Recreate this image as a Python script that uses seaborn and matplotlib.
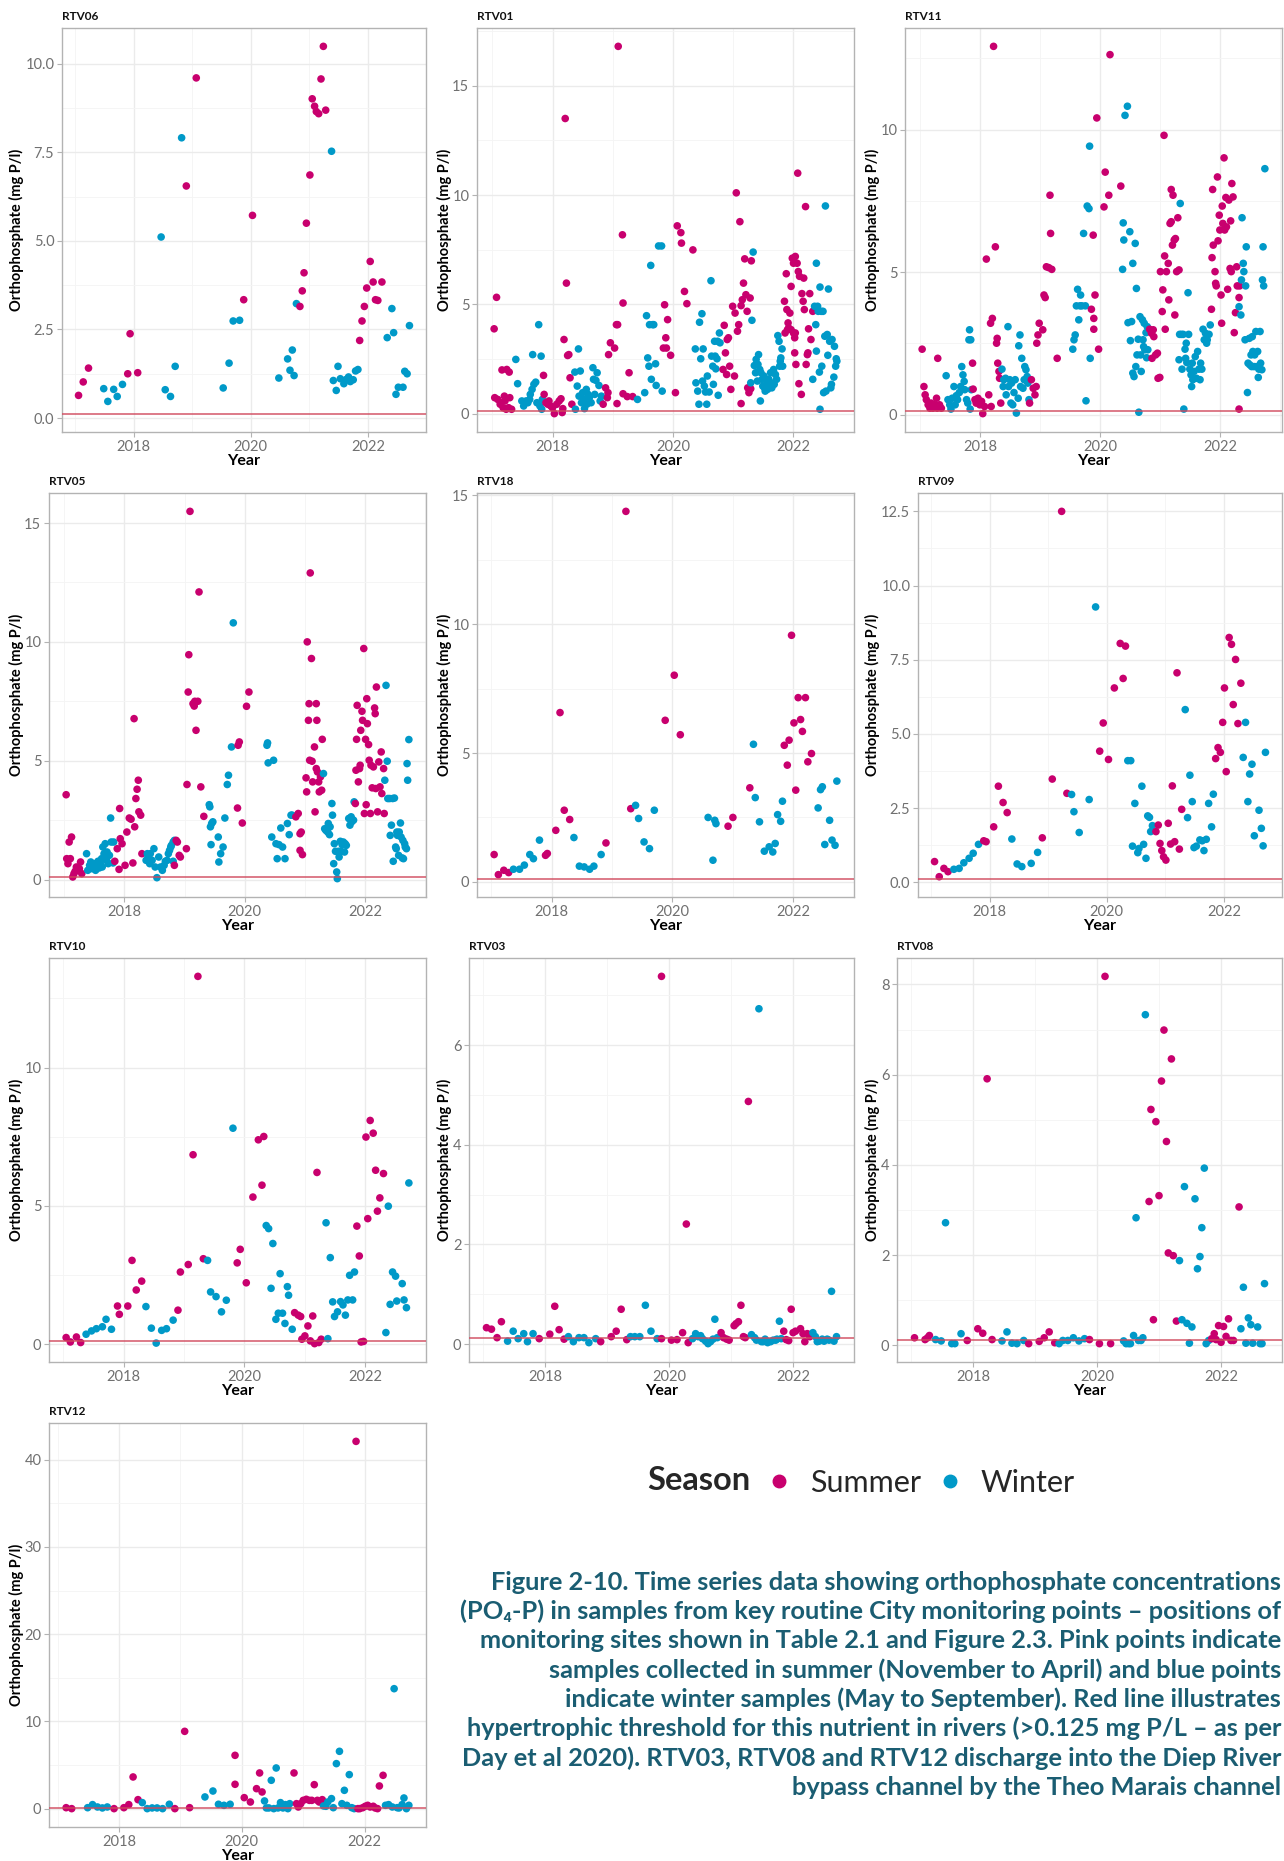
import matplotlib
matplotlib.use("Agg")
import matplotlib.pyplot as plt
import seaborn as sns
import pandas as pd
from matplotlib.lines import Line2D
from matplotlib.ticker import MultipleLocator, FixedLocator, FuncFormatter

# ---------------- data: (decimal year, orthophosphate mg P/l) ----------------
RTV06_summer = [(2017.06,0.64),(2017.14,1.02),(2017.23,1.41),(2017.90,1.25),(2017.94,2.38),(2018.07,1.28),(2018.90,6.55),(2019.07,9.60),(2019.88,3.34),(2020.03,5.72),(2020.84,3.15),(2020.88,3.59),(2020.91,4.10),(2020.95,5.50),(2021.01,6.86),(2021.05,9.01),(2021.09,8.80),(2021.12,8.65),(2021.16,8.59),(2021.20,9.57),(2021.24,10.49),(2021.28,8.69),(2021.86,2.19),(2021.90,2.74),(2021.94,3.15),(2021.98,3.67),(2022.04,4.42),(2022.09,3.84),(2022.13,3.34),(2022.17,3.32),(2022.24,3.84)]
RTV06_winter = [(2017.49,0.83),(2017.56,0.47),(2017.66,0.81),(2017.72,0.61),(2017.81,0.95),(2018.47,5.11),(2018.54,0.80),(2018.63,0.61),(2018.71,1.46),(2018.82,7.91),(2019.53,0.85),(2019.63,1.55),(2019.70,2.74),(2019.81,2.76),(2020.48,1.13),(2020.63,1.67),(2020.67,1.35),(2020.71,1.92),(2020.74,1.20),(2020.78,3.23),(2021.38,7.53),(2021.41,1.06),(2021.46,0.78),(2021.49,1.46),(2021.53,1.11),(2021.59,0.97),(2021.63,1.09),(2021.67,1.16),(2021.70,1.03),(2021.75,1.08),(2021.79,1.33),(2021.83,1.37),(2022.33,2.27),(2022.41,3.09),(2022.44,2.41),(2022.48,0.67),(2022.52,0.87),(2022.60,0.87),(2022.63,1.32),(2022.67,1.25),(2022.71,2.61)]

RTV01_summer = [(2017.03,3.88),(2017.07,5.32),(2017.04,0.73),(2017.09,0.65),(2017.13,0.43),(2017.16,2.0),(2017.18,0.27),(2017.21,0.58),(2017.24,2.02),(2017.27,0.27),(2017.28,1.9),(2017.29,0.73),(2017.32,0.2),(2017.23,0.2),(2017.20,0.8),(2017.14,0.5),
 (2017.85,1.75),(2017.86,0.88),(2017.89,0.5),(2017.92,0.43),(2017.94,0.58),(2017.97,0.35),(2018.0,0.27),(2018.03,0.0),(2018.07,0.43),(2018.11,0.58),(2018.14,0.68),(2018.17,0.23),(2018.16,0.05),
 (2018.19,3.39),(2018.21,13.5),(2018.23,5.97),(2018.25,2.66),(2018.27,2.7),(2018.29,1.64),(2018.32,0.43),
 (2018.84,0.43),(2018.88,1.18),(2018.91,0.73),(2018.92,0.96),(2018.93,2.7),(2018.96,3.24),(2019.03,3.0),(2019.06,4.07),(2019.08,4.07),(2019.07,0.46),(2019.09,16.8),(2019.16,8.18),(2019.17,5.06),(2019.17,0.91),(2019.24,0.78),(2019.27,1.87),(2019.33,0.78),
 (2019.86,4.98),(2019.91,4.3),(2019.88,3.47),(2019.84,3.0),(2019.89,3.0),(2019.96,2.67),(2020.04,0.96),(2020.07,8.59),(2020.13,8.28),(2020.14,7.8),(2020.19,5.59),(2020.23,5.03),(2020.33,7.49),
 (2020.85,4.04),(2020.87,2.78),(2020.83,2.02),(2020.90,3.39),(2020.92,3.47),(2020.89,1.79),(2020.94,2.17),(2020.96,1.11),(2020.99,4.91),(2021.02,1.72),(2021.03,4.6),(2021.05,10.1),(2021.07,3.77),(2021.09,4.07),(2021.11,8.78),(2021.13,4.94),(2021.13,0.46),(2021.15,5.21),(2021.17,5.97),(2021.19,7.08),(2021.21,5.44),(2021.23,4.68),(2021.24,1.18),(2021.26,0.96),(2021.28,5.29),(2021.29,1.14),(2021.30,6.99),
 (2021.85,5.14),(2021.88,6.4),(2021.89,4.76),(2021.91,4.15),(2021.94,4.6),(2021.96,5.82),(2021.86,3.69),(2021.90,3.84),(2021.92,3.92),(2021.96,3.84),(2021.98,7.11),(2022.0,6.88),(2022.02,3.47),(2022.0,3.69),(2022.03,3.69),(2022.02,2.78),(2022.03,7.19),(2022.06,6.88),(2022.04,2.25),(2022.07,11.0),(2022.08,6.5),(2022.10,6.28),(2022.09,1.37),(2022.13,0.88),(2022.14,5.49),(2022.16,5.14),(2022.17,6.2),(2022.18,4.76),(2022.20,9.47),(2022.21,2.25),(2022.23,2.7),(2022.24,2.78),(2022.25,3.88),(2022.27,5.49),(2022.29,3.39),(2022.32,4.68)]
RTV01_winter = [(2017.39,2.48),(2017.42,1.37),(2017.49,0.58),(2017.52,0.35),(2017.56,0.58),(2017.59,0.5),(2017.62,0.65),(2017.63,0.88),(2017.66,1.11),(2017.67,2.7),(2017.69,1.34),(2017.72,1.44),(2017.74,0.5),(2017.77,4.07),(2017.79,0.35),(2017.81,2.63),(2017.82,0.2),(2017.83,0.65),
 (2018.37,1.9),(2018.38,0.2),(2018.41,1.26),(2018.43,2.96),(2018.44,0.8),(2018.46,1.95),(2018.48,0.5),(2018.50,0.96),(2018.52,0.65),(2018.53,0.23),(2018.56,1.11),(2018.57,0.43),(2018.59,0.88),(2018.61,0.73),(2018.64,0.5),(2018.67,2.1),(2018.68,1.57),(2018.70,0.88),(2018.72,1.52),(2018.74,1.87),(2018.77,1.29),(2018.79,0.58),(2018.81,0.8),
 (2019.41,0.65),(2019.53,0.96),(2019.56,4.48),(2019.58,2.55),(2019.60,2.17),(2019.61,4.07),(2019.63,6.78),(2019.64,1.57),(2019.66,4.07),(2019.68,4.07),(2019.71,2.28),(2019.72,1.29),(2019.76,7.67),(2019.81,7.67),(2019.82,1.03),
 (2020.37,2.96),(2020.38,1.41),(2020.41,1.03),(2020.43,0.43),(2020.44,4.18),(2020.46,2.51),(2020.48,4.57),(2020.49,1.49),(2020.50,2.96),(2020.52,1.26),(2020.54,0.99),(2020.56,0.43),(2020.57,1.72),(2020.60,0.99),(2020.63,6.08),(2020.64,2.63),(2020.66,2.17),(2020.67,1.34),(2020.69,3.31),(2020.70,2.63),(2020.71,2.05),(2020.73,2.51),(2020.74,3.31),(2020.75,0.84),(2020.77,3.69),(2020.78,3.24),
 (2021.29,1.41),(2021.31,4.27),(2021.33,7.39),(2021.35,2.2),(2021.37,1.87),(2021.38,2.48),(2021.40,1.49),(2021.41,2.25),(2021.42,2.7),(2021.44,2.02),(2021.45,0.58),(2021.46,1.87),(2021.48,1.57),(2021.49,1.26),(2021.51,1.72),(2021.52,1.18),(2021.53,1.03),(2021.56,1.41),(2021.57,1.11),(2021.59,1.57),(2021.60,1.26),(2021.62,1.87),(2021.63,1.41),(2021.64,1.18),(2021.67,2.02),(2021.68,1.34),(2021.70,1.79),(2021.72,1.57),(2021.74,3.57),(2021.76,3.31),(2021.77,2.17),(2021.78,2.4),(2021.79,2.55),(2021.81,2.96),(2021.82,2.17),
 (2022.32,1.57),(2022.35,4.91),(2022.37,4.07),(2022.38,2.86),(2022.38,6.88),(2022.40,4.91),(2022.41,4.68),(2022.43,1.9),(2022.44,5.79),(2022.44,0.2),(2022.46,4.68),(2022.47,2.17),(2022.49,4.68),(2022.50,0.96),(2022.52,3.54),(2022.53,9.5),(2022.54,1.03),(2022.56,3.62),(2022.57,2.67),(2022.58,5.7),(2022.60,3.31),(2022.62,1.18),(2022.63,1.34),(2022.64,3.39),(2022.67,1.67),(2022.68,3.08),(2022.70,2.17),(2022.71,2.51),(2022.72,2.4)]

RTV11_summer = [(2017.03,2.30),(2017.06,0.99),(2017.08,0.70),(2017.10,0.53),(2017.13,0.35),(2017.16,0.23),(2017.18,0.41),(2017.21,0.23),(2017.24,0.35),(2017.27,0.58),(2017.28,0.23),(2017.29,1.98),(2017.32,0.35),(2017.35,0.23),
 (2017.87,1.81),(2017.88,0.9),(2017.91,0.53),(2017.93,0.41),(2017.96,0.58),(2017.99,0.35),(2018.02,0.47),(2018.04,0.04),(2018.07,0.29),(2018.10,5.46),(2018.14,0.7),(2018.17,3.21),(2018.18,0.29),(2018.20,3.38),(2018.22,12.92),(2018.25,5.89),(2018.27,2.51),(2018.28,2.68),(2018.29,1.81),(2018.31,1.52),(2018.32,1.28),(2018.34,0.41),
 (2018.82,0.41),(2018.85,1.23),(2018.88,0.93),(2018.91,0.70),(2018.93,0.99),(2018.94,2.51),(2018.96,2.8),(2018.98,3.21),(2019.04,2.98),(2019.06,4.2),(2019.08,4.11),(2019.10,5.19),(2019.14,5.16),(2019.16,7.7),(2019.17,6.36),(2019.19,5.1),(2019.28,1.98),
 (2019.85,3.7),(2019.88,6.3),(2019.89,3.38),(2019.91,4.2),(2019.89,3.0),(2019.94,10.41),(2019.97,2.3),(2020.06,7.29),(2020.08,8.51),(2020.14,7.7),(2020.16,12.63),(2020.34,8.02),
 (2020.82,3.0),(2020.85,2.86),(2020.86,1.98),(2020.88,2.98),(2020.89,2.74),(2020.92,2.1),(2020.95,2.16),(2020.96,1.28),(2020.99,1.31),(2021.00,5.02),(2021.03,3.62),(2021.04,4.38),(2021.07,5.57),(2021.08,3.0),(2021.06,9.8),(2021.10,5.02),(2021.13,5.31),(2021.14,4.03),(2021.16,6.71),(2021.18,7.9),(2021.18,6.77),(2021.20,5.95),(2021.21,7.7),(2021.23,6.13),(2021.24,3.5),(2021.25,6.18),(2021.27,5.02),(2021.29,6.91),(2021.31,5.08),
 (2021.85,3.7),(2021.86,5.51),(2021.87,7.9),(2021.88,5.95),(2021.91,5.02),(2021.92,4.61),(2021.93,4.52),(2021.95,8.34),(2021.96,6.1),(2021.98,7.0),(2021.99,6.48),(2022.01,4.2),(2022.02,3.21),(2022.03,7.32),(2022.04,6.71),(2022.06,9.01),(2022.07,6.48),(2022.09,7.62),(2022.10,6.59),(2022.12,4.4),(2022.14,7.53),(2022.16,5.13),(2022.17,6.8),(2022.19,8.11),(2022.18,5.02),(2022.21,7.64),(2022.23,2.88),(2022.25,3.58),(2022.27,5.19),(2022.28,4.52),(2022.31,4.11),(2022.31,0.2),(2022.32,4.52)]
RTV11_winter = [(2017.43,1.37),(2017.46,0.53),(2017.49,0.35),(2017.51,0.2),(2017.53,0.58),(2017.56,0.99),(2017.58,0.35),(2017.60,0.67),(2017.62,0.53),(2017.65,0.78),(2017.67,0.99),(2017.69,1.69),(2017.71,1.4),(2017.73,1.17),(2017.74,0.88),(2017.77,0.53),(2017.79,0.41),(2017.81,2.63),(2017.83,0.2),(2017.82,2.98),(2017.84,2.63),(2017.85,0.88),
 (2018.36,1.6),(2018.38,0.99),(2018.39,1.23),(2018.42,1.28),(2018.43,0.7),(2018.46,3.09),(2018.47,0.99),(2018.49,1.23),(2018.51,0.41),(2018.52,1.11),(2018.54,0.35),(2018.56,0.78),(2018.58,1.23),(2018.60,0.06),(2018.63,0.58),(2018.64,2.42),(2018.66,2.8),(2018.67,0.99),(2018.69,1.98),(2018.71,0.93),(2018.73,1.23),(2018.74,1.69),(2018.76,1.58),(2018.78,1.34),(2018.79,1.11),(2018.81,0.53),
 (2019.54,2.3),(2019.56,2.63),(2019.58,2.8),(2019.60,3.82),(2019.62,4.4),(2019.64,3.33),(2019.66,3.82),(2019.67,4.2),(2019.69,3.82),(2019.72,6.36),(2019.75,3.82),(2019.76,0.49),(2019.78,7.32),(2019.81,7.23),(2019.82,9.42),(2019.83,1.98),
 (2020.37,5.1),(2020.38,6.73),(2020.39,6.13),(2020.41,10.5),(2020.45,10.82),(2020.46,3.23),(2020.49,6.42),(2020.50,2.6),(2020.52,3.27),(2020.54,1.46),(2020.54,5.31),(2020.56,1.34),(2020.58,6.01),(2020.59,1.69),(2020.60,4.43),(2020.61,2.1),(2020.63,2.65),(2020.64,0.09),(2020.66,3.44),(2020.67,2.1),(2020.68,1.52),(2020.70,3.33),(2020.71,2.63),(2020.72,2.39),(2020.73,3.21),(2020.74,2.28),(2020.76,2.88),(2020.77,2.0),(2020.78,3.09),(2020.79,2.28),(2020.81,2.98),
 (2021.31,1.93),(2021.32,2.82),(2021.33,7.41),(2021.35,2.82),(2021.36,1.6),(2021.38,2.82),(2021.39,0.2),(2021.41,2.3),(2021.42,1.98),(2021.43,2.51),(2021.44,1.83),(2021.46,4.28),(2021.47,2.82),(2021.49,1.6),(2021.51,1.4),(2021.52,0.99),(2021.53,1.81),(2021.54,1.23),(2021.56,1.52),(2021.58,2.04),(2021.60,1.28),(2021.62,2.22),(2021.64,1.6),(2021.66,1.23),(2021.67,1.81),(2021.69,1.6),(2021.71,3.0),(2021.73,2.63),(2021.75,2.86),(2021.77,2.51),(2021.78,2.63),(2021.81,2.82),(2021.83,3.15),
 (2022.31,3.79),(2022.34,3.5),(2022.35,4.73),(2022.36,6.91),(2022.38,5.31),(2022.39,5.02),(2022.41,2.63),(2022.42,4.52),(2022.43,5.89),(2022.45,0.78),(2022.46,1.81),(2022.48,2.68),(2022.49,1.75),(2022.51,2.1),(2022.52,1.69),(2022.53,2.74),(2022.54,2.22),(2022.56,1.69),(2022.57,2.1),(2022.59,2.92),(2022.60,1.69),(2022.62,2.22),(2022.63,1.31),(2022.64,1.6),(2022.66,2.92),(2022.67,1.81),(2022.69,1.58),(2022.70,4.73),(2022.71,5.89),(2022.72,4.52),(2022.74,8.63)]

RTV05_summer = [(2017.03,3.57),(2017.04,0.88),(2017.06,0.67),(2017.08,1.58),(2017.10,0.88),(2017.12,1.79),(2017.14,0.11),(2017.16,0.25),(2017.18,0.35),(2017.20,0.53),(2017.22,0.39),(2017.25,0.46),(2017.27,0.74),(2017.29,0.25),
 (2017.84,0.77),(2017.88,1.3),(2017.91,0.43),(2017.92,2.99),(2017.93,1.72),(2017.96,1.51),(2018.01,0.6),(2018.04,2.0),(2018.08,2.59),(2018.11,2.54),(2018.14,0.7),(2018.16,6.77),(2018.17,2.22),(2018.19,3.41),(2018.21,3.8),(2018.23,4.18),(2018.24,2.85),(2018.27,2.71),(2018.29,1.09),
 (2018.83,0.6),(2018.86,1.65),(2018.88,1.58),(2018.91,1.02),(2018.93,0.95),(2019.03,1.3),(2019.04,4.0),(2019.06,7.89),(2019.07,9.46),(2019.09,15.49),(2019.14,7.4),(2019.16,7.3),(2019.17,7.5),(2019.19,6.28),(2019.22,7.5),(2019.24,12.1),(2019.27,3.9),(2019.32,2.66),
 (2019.88,3.01),(2019.89,5.65),(2019.91,5.79),(2019.96,2.38),(2020.03,7.29),(2020.07,7.89),
 (2020.85,2.64),(2020.89,2.78),(2020.92,1.93),(2020.94,2.0),(2020.92,1.23),(2020.96,1.05),(2021.02,4.28),(2021.03,3.69),(2021.04,10.0),(2021.06,6.7),(2021.07,7.4),(2021.08,5.02),(2021.09,12.9),(2021.11,9.3),(2021.12,4.98),(2021.13,4.11),(2021.16,5.58),(2021.17,2.85),(2021.19,7.4),(2021.19,4.67),(2021.20,6.7),(2021.21,4.53),(2021.23,4.11),(2021.24,3.69),(2021.26,4.32),(2021.28,3.76),(2021.29,5.9),
 (2021.84,3.2),(2021.85,4.6),(2021.86,5.9),(2021.87,7.33),(2021.89,4.11),(2021.91,4.67),(2021.92,4.81),(2021.93,6.28),(2021.95,7.08),(2021.96,6.7),(2021.98,9.72),(2021.99,2.78),(2022.01,5.9),(2022.02,3.15),(2022.03,7.61),(2022.04,6.56),(2022.06,5.68),(2022.07,5.02),(2022.09,2.78),(2022.10,4.81),(2022.12,3.86),(2022.14,4.74),(2022.16,7.22),(2022.17,6.98),(2022.18,3.83),(2022.19,8.1),(2022.21,2.85),(2022.23,4.95),(2022.25,3.9),(2022.27,5.37),(2022.28,3.62),(2022.31,4.67),(2022.32,2.78)]
RTV05_winter = [(2017.37,1.09),(2017.39,0.39),(2017.42,0.6),(2017.44,0.74),(2017.46,0.46),(2017.49,0.53),(2017.51,0.67),(2017.52,0.39),(2017.54,0.6),(2017.56,0.77),(2017.58,0.49),(2017.60,0.67),(2017.62,0.88),(2017.63,0.53),(2017.64,1.37),(2017.66,1.09),(2017.67,0.95),(2017.68,1.51),(2017.70,0.81),(2017.71,1.16),(2017.73,0.67),(2017.75,1.02),(2017.77,2.59),(2017.78,1.58),(2017.81,0.7),(2017.82,1.58),
 (2018.36,0.81),(2018.38,1.09),(2018.39,1.02),(2018.42,0.67),(2018.43,1.09),(2018.46,0.81),(2018.49,1.3),(2018.51,0.53),(2018.54,0.08),(2018.57,0.95),(2018.60,0.53),(2018.63,0.39),(2018.66,0.6),(2018.68,0.77),(2018.71,0.81),(2018.73,1.09),(2018.75,1.23),(2018.77,1.37),(2018.78,1.44),(2018.81,1.58),(2018.83,1.65),(2018.81,0.77),
 (2019.41,3.15),(2019.42,3.06),(2019.43,2.22),(2019.45,2.36),(2019.47,2.43),(2019.44,1.47),(2019.56,1.79),(2019.57,0.74),(2019.60,1.09),(2019.64,1.37),(2019.67,2.59),(2019.71,4.0),(2019.73,4.39),(2019.78,5.58),(2019.81,10.8),
 (2020.37,5.65),(2020.38,5.75),(2020.39,4.91),(2020.45,1.79),(2020.48,5.02),(2020.52,1.51),(2020.54,0.88),(2020.57,1.47),(2020.60,2.17),(2020.63,1.37),(2020.67,0.88),(2020.71,2.36),(2020.74,1.89),(2020.77,2.71),(2020.79,2.71),
 (2021.31,4.46),(2021.33,2.14),(2021.35,2.07),(2021.38,2.0),(2021.39,2.36),(2021.41,1.89),(2021.42,2.22),(2021.45,3.2),(2021.46,2.71),(2021.48,0.67),(2021.49,1.51),(2021.51,1.19),(2021.53,0.32),(2021.54,0.04),(2021.56,1.19),(2021.57,0.95),(2021.59,1.61),(2021.60,1.19),(2021.62,1.47),(2021.64,1.58),(2021.66,1.16),(2021.67,1.51),(2021.69,1.44),(2021.73,2.57),(2021.75,2.29),(2021.77,2.64),(2021.78,2.43),(2021.81,2.5),(2021.82,3.27),
 (2022.33,4.18),(2022.35,8.17),(2022.37,4.98),(2022.38,3.41),(2022.41,3.41),(2022.42,1.86),(2022.44,2.29),(2022.46,3.41),(2022.47,0.77),(2022.49,3.43),(2022.51,1.37),(2022.52,1.3),(2022.53,2.0),(2022.54,1.86),(2022.56,1.02),(2022.57,2.0),(2022.59,2.38),(2022.60,1.79),(2022.62,0.91),(2022.63,1.65),(2022.64,0.88),(2022.66,1.51),(2022.67,1.37),(2022.69,1.3),(2022.70,4.88),(2022.71,4.18),(2022.73,5.89)]

RTV18_summer = [(2017.05,1.06),(2017.12,0.28),(2017.21,0.45),(2017.29,0.36),(2017.90,1.03),(2017.93,1.1),(2018.07,2.0),(2018.14,6.57),(2018.21,2.78),(2018.30,2.42),(2018.90,1.51),(2019.23,14.38),(2019.31,2.84),(2019.88,6.27),(2020.03,8.02),(2020.13,5.71),(2020.92,2.16),(2021.00,2.5),(2021.28,3.65),(2021.85,5.3),(2021.90,4.53),(2021.93,5.5),(2021.97,9.57),(2022.01,6.17),(2022.04,3.56),(2022.08,7.15),(2022.12,6.3),(2022.15,5.84),(2022.20,7.15),(2022.24,4.66),(2022.30,4.98)]
RTV18_winter = [(2017.37,0.49),(2017.47,0.49),(2017.55,0.65),(2017.64,1.06),(2017.70,0.9),(2017.80,1.62),(2018.37,1.72),(2018.46,0.61),(2018.54,0.58),(2018.63,0.49),(2018.70,0.61),(2018.82,1.06),(2019.39,2.97),(2019.44,2.46),(2019.53,1.55),(2019.62,1.29),(2019.70,2.78),(2020.59,2.5),(2020.67,0.84),(2020.70,2.39),(2020.72,2.26),(2021.34,5.34),(2021.37,3.27),(2021.44,2.33),(2021.52,1.19),(2021.60,1.36),(2021.66,1.16),(2021.70,1.49),(2021.74,2.61),(2021.79,2.35),(2021.82,3.13),(2022.41,2.87),(2022.45,3.58),(2022.48,3.69),(2022.52,1.45),(2022.60,2.39),(2022.64,1.62),(2022.69,1.42),(2022.72,3.91)]

RTV09_summer = [(2017.06,0.70),(2017.14,0.19),(2017.22,0.47),(2017.29,0.36),(2017.90,1.40),(2017.94,1.37),(2018.07,1.87),(2018.15,3.24),(2018.23,2.69),(2018.30,2.35),(2018.90,1.50),(2019.07,3.48),(2019.23,12.5),(2019.32,3.0),(2019.88,4.42),(2019.94,5.37),(2020.03,4.14),(2020.13,6.55),(2020.23,8.05),(2020.28,6.87),(2020.32,7.96),(2020.84,1.71),(2020.88,1.93),(2020.91,1.31),(2020.94,1.07),(2020.97,0.86),(2021.01,0.75),(2021.05,1.99),(2021.09,1.29),(2021.12,3.25),(2021.16,1.37),(2021.20,7.06),(2021.24,1.12),(2021.28,2.46),(2021.86,4.17),(2021.90,4.54),(2021.94,4.38),(2021.98,5.39),(2022.01,6.55),(2022.04,3.73),(2022.09,8.25),(2022.13,8.02),(2022.16,5.99),(2022.20,7.51),(2022.24,5.35),(2022.29,6.71)]
RTV09_winter = [(2017.39,0.44),(2017.48,0.47),(2017.56,0.66),(2017.65,0.81),(2017.72,0.98),(2017.81,1.28),(2018.38,1.46),(2018.47,0.62),(2018.55,0.53),(2018.71,0.64),(2018.82,1.01),(2019.40,2.96),(2019.44,2.38),(2019.53,1.68),(2019.70,2.79),(2019.81,9.28),(2020.36,4.10),(2020.41,4.10),(2020.44,1.22),(2020.48,2.66),(2020.53,1.0),(2020.55,1.14),(2020.60,3.24),(2020.63,1.28),(2020.67,0.81),(2020.70,2.24),(2020.73,2.19),(2020.75,1.71),(2020.78,1.91),(2021.34,5.82),(2021.38,2.18),(2021.42,3.61),(2021.46,2.72),(2021.49,1.17),(2021.53,1.22),(2021.59,1.43),(2021.63,1.40),(2021.66,1.07),(2021.70,1.45),(2021.74,2.66),(2021.79,1.87),(2021.82,2.97),(2022.33,4.21),(2022.37,5.39),(2022.41,2.72),(2022.44,3.65),(2022.48,3.98),(2022.52,1.57),(2022.60,2.43),(2022.64,1.82),(2022.67,1.23),(2022.71,4.38)]

RTV10_summer = [(2017.05,0.24),(2017.12,0.08),(2017.22,0.26),(2017.29,0.06),(2017.90,1.38),(2017.93,1.08),(2018.07,1.38),(2018.14,3.03),(2018.21,1.96),(2018.30,2.28),(2018.90,1.23),(2018.94,2.61),(2019.07,2.88),(2019.15,6.85),(2019.23,13.3),(2019.32,3.09),(2019.88,2.94),(2019.93,3.43),(2020.03,2.22),(2020.14,5.32),(2020.23,7.39),(2020.29,5.75),(2020.32,7.51),(2020.83,1.14),(2020.89,1.05),(2020.93,1.0),(2020.95,0.18),(2021.0,0.3),(2021.05,0.66),(2021.09,0.12),(2021.13,1.02),(2021.16,0.02),(2021.20,6.21),(2021.23,0.06),(2021.27,0.18),(2021.86,4.27),(2021.90,3.19),(2021.93,0.08),(2021.97,0.1),(2022.01,7.49),(2022.04,4.54),(2022.08,8.09),(2022.13,7.63),(2022.17,6.29),(2022.20,4.81),(2022.24,5.29),(2022.30,6.17)]
RTV10_winter = [(2017.38,0.36),(2017.47,0.48),(2017.55,0.56),(2017.65,0.63),(2017.71,0.9),(2017.80,0.54),(2018.37,1.36),(2018.46,0.58),(2018.54,0.04),(2018.63,0.5),(2018.71,0.56),(2018.82,0.87),(2019.39,3.03),(2019.44,1.89),(2019.53,1.72),(2019.62,1.17),(2019.70,1.59),(2019.81,7.81),(2020.36,4.29),(2020.40,4.18),(2020.44,2.02),(2020.47,3.64),(2020.52,0.9),(2020.56,1.12),(2020.59,2.55),(2020.63,1.12),(2020.67,0.75),(2020.71,2.08),(2020.73,1.77),(2020.79,0.54),(2021.35,4.39),(2021.38,0.2),(2021.42,3.13),(2021.46,1.53),(2021.49,1.0),(2021.54,1.17),(2021.59,1.54),(2021.63,1.42),(2021.67,1.05),(2021.71,1.6),(2021.74,2.49),(2021.79,1.6),(2021.82,2.61),(2022.34,0.42),(2022.38,4.99),(2022.41,1.44),(2022.45,2.61),(2022.50,2.46),(2022.52,1.56),(2022.61,2.19),(2022.64,1.6),(2022.68,1.32),(2022.72,5.83)]

RTV03_summer = [(2017.06,0.33),(2017.14,0.30),(2017.23,0.13),(2017.30,0.45),(2017.91,0.11),(2018.08,0.2),(2018.16,0.76),(2018.23,0.29),(2018.31,0.1),(2018.90,0.05),(2019.07,0.15),(2019.15,0.26),(2019.23,0.7),(2019.32,0.09),(2019.88,7.38),(2019.88,0.11),(2020.04,0.08),(2020.13,0.09),(2020.22,0.23),(2020.28,2.41),(2020.31,0.03),(2020.84,0.23),(2020.88,0.13),(2020.93,0.1),(2020.97,0.08),(2021.05,0.37),(2021.08,0.41),(2021.12,0.45),(2021.16,0.78),(2021.20,0.15),(2021.23,0.13),(2021.28,4.87),(2021.85,0.26),(2021.89,0.09),(2021.93,0.07),(2021.97,0.7),(2022.0,0.23),(2022.04,0.26),(2022.12,0.31),(2022.16,0.21),(2022.19,0.05),(2022.23,0.21),(2022.27,0.15)]
RTV03_winter = [(2017.40,0.06),(2017.49,0.26),(2017.57,0.11),(2017.66,0.21),(2017.72,0.05),(2017.81,0.21),(2018.38,0.15),(2018.46,0.05),(2018.55,0.13),(2018.63,0.13),(2018.71,0.03),(2018.82,0.11),(2019.38,0.15),(2019.45,0.15),(2019.53,0.15),(2019.62,0.78),(2019.71,0.26),(2019.81,0.11),(2020.38,0.11),(2020.43,0.21),(2020.47,0.15),(2020.51,0.17),(2020.54,0.11),(2020.59,0.06),(2020.63,0.01),(2020.67,0.05),(2020.71,0.1),(2020.74,0.5),(2020.78,0.13),(2021.33,0.19),(2021.38,0.13),(2021.41,0.08),(2021.45,6.73),(2021.49,0.05),(2021.52,0.05),(2021.55,0.1),(2021.59,0.03),(2021.64,0.05),(2021.68,0.08),(2021.72,0.08),(2021.74,0.1),(2021.78,0.46),(2021.81,0.11),(2022.32,0.23),(2022.36,0.15),(2022.39,0.05),(2022.42,0.06),(2022.47,0.1),(2022.50,0.06),(2022.55,0.1),(2022.58,0.08),(2022.62,1.06),(2022.66,0.06),(2022.70,0.15)]

RTV08_summer = [(2017.06,0.17),(2017.23,0.13),(2017.27,0.17),(2017.30,0.22),(2017.91,0.11),(2018.08,0.37),(2018.16,0.27),(2018.23,5.91),(2018.31,0.13),(2018.90,0.04),(2019.07,0.09),(2019.15,0.17),(2019.23,0.3),(2019.32,0.06),(2019.88,0.13),(2020.04,0.04),(2020.13,8.18),(2020.22,0.04),(2020.84,3.19),(2020.87,5.23),(2020.91,0.57),(2020.95,4.96),(2021.00,3.32),(2021.04,5.86),(2021.08,6.99),(2021.12,4.52),(2021.15,2.05),(2021.20,6.35),(2021.23,1.99),(2021.28,0.54),(2021.85,0.15),(2021.89,0.26),(2021.92,0.13),(2021.96,0.44),(2022.0,0.07),(2022.04,0.42),(2022.08,0.2),(2022.12,0.59),(2022.16,0.11),(2022.20,0.11),(2022.29,3.07)]
RTV08_winter = [(2017.40,0.13),(2017.49,0.1),(2017.56,2.72),(2017.66,0.04),(2017.71,0.04),(2017.81,0.26),(2018.47,0.1),(2018.55,0.3),(2018.63,0.05),(2018.71,0.04),(2018.82,0.11),(2019.39,0.04),(2019.45,0.11),(2019.53,0.11),(2019.62,0.17),(2019.71,0.1),(2019.80,0.15),(2020.43,0.1),(2020.47,0.04),(2020.51,0.04),(2020.54,0.04),(2020.59,0.22),(2020.63,2.83),(2020.67,0.11),(2020.71,0.11),(2020.74,0.17),(2020.78,7.33),(2021.33,1.88),(2021.37,0.57),(2021.41,3.52),(2021.45,0.49),(2021.49,0.05),(2021.53,0.41),(2021.58,3.25),(2021.62,1.7),(2021.66,1.97),(2021.69,2.61),(2021.73,3.93),(2021.76,0.04),(2021.80,0.11),(2022.32,0.37),(2022.36,1.29),(2022.40,0.05),(2022.44,0.61),(2022.48,0.46),(2022.51,0.05),(2022.59,0.41),(2022.63,0.04),(2022.66,0.04),(2022.70,1.37)]

RTV12_summer = [(2017.14,0.11),(2017.23,0.0),(2017.92,0.0),(2018.08,0.11),(2018.16,0.46),(2018.23,3.63),(2018.31,1.03),(2018.91,0.0),(2019.07,8.86),(2019.15,0.11),(2019.89,6.11),(2019.89,2.79),(2020.04,1.26),(2020.14,0.76),(2020.24,2.29),(2020.29,4.09),(2020.33,1.91),(2020.85,4.09),(2020.89,0.57),(2020.92,0.19),(2020.96,0.57),(2021.0,0.95),(2021.05,1.07),(2021.10,0.95),(2021.14,0.95),(2021.18,2.75),(2021.23,0.95),(2021.26,0.76),(2021.31,1.03),(2021.86,42.1),(2021.89,0.0),(2021.92,0.0),(2021.97,0.11),(2022.01,0.27),(2022.05,0.38),(2022.09,0.19),(2022.14,0.27),(2022.17,0.08),(2022.21,0.0),(2022.24,2.6),(2022.30,3.82)]
RTV12_winter = [(2017.49,0.11),(2017.57,0.46),(2017.65,0.19),(2017.73,0.08),(2017.81,0.19),(2018.38,0.69),(2018.46,0.0),(2018.54,0.08),(2018.62,0.08),(2018.71,0.0),(2018.82,0.5),(2019.40,1.34),(2019.53,2.02),(2019.62,0.5),(2019.71,0.38),(2019.81,0.5),(2020.37,0.88),(2020.40,0.08),(2020.44,0.08),(2020.48,3.25),(2020.52,0.0),(2020.56,4.66),(2020.59,0.08),(2020.63,0.69),(2020.67,0.08),(2020.71,0.46),(2020.75,0.0),(2020.78,0.57),(2021.33,0.31),(2021.37,0.27),(2021.40,0.76),(2021.46,1.15),(2021.49,0.11),(2021.54,5.16),(2021.59,6.57),(2021.63,0.57),(2021.67,2.1),(2021.71,0.38),(2021.75,3.9),(2021.79,0.11),(2021.83,0.0),(2022.34,0.38),(2022.39,0.46),(2022.45,0.19),(2022.48,13.75),(2022.53,0.11),(2022.56,0.08),(2022.61,0.46),(2022.64,1.22),(2022.68,0.0),(2022.72,0.38)]

stations = ["RTV06", "RTV01", "RTV11", "RTV05", "RTV18", "RTV09", "RTV10", "RTV03", "RTV08", "RTV12"]
summer_data = [RTV06_summer, RTV01_summer, RTV11_summer, RTV05_summer, RTV18_summer,
               RTV09_summer, RTV10_summer, RTV03_summer, RTV08_summer, RTV12_summer]
winter_data = [RTV06_winter, RTV01_winter, RTV11_winter, RTV05_winter, RTV18_winter,
               RTV09_winter, RTV10_winter, RTV03_winter, RTV08_winter, RTV12_winter]
y_tick_step = [2.5, 5, 5, 5, 5, 2.5, 5, 2, 2, 10]
x_ticks = [2018, 2020, 2022]
threshold = 0.125
season_labels = ["Summer", "Winter"]
caption_lines = [
    "Figure 2-10. Time series data showing orthophosphate concentrations",
    "(PO\u2084-P) in samples from key routine City monitoring points \u2013 positions of",
    "monitoring sites shown in Table 2.1 and Figure 2.3. Pink points indicate",
    "samples collected in summer (November to April) and blue points",
    "indicate winter samples (May to September). Red line illustrates",
    "hypertrophic threshold for this nutrient in rivers (>0.125 mg P/L \u2013 as per",
    "Day et al 2020). RTV03, RTV08 and RTV12 discharge into the Diep River",
    "bypass channel by the Theo Marais channel",
]

# ---------------- style ----------------
palette = {"Summer": "#C8006E", "Winter": "#0099C8"}
sns.set_theme(style="white")
plt.rcParams["font.family"] = ["Lato", "DejaVu Sans"]

W, H = 1284, 1861
fig = plt.figure(figsize=(W / 100, H / 100), dpi=100)

row_tops = [28, 493, 958, 1423]
cell_lefts = [0, 428, 856]
plot_h = 404
right_edge = 426
left_offsets = [62, 49, 49, 49, 49, 62, 49, 41, 41, 49]

for i, st in enumerate(stations):
    r, c = divmod(i, 3)
    left_px = cell_lefts[c] + left_offsets[i]
    width_px = cell_lefts[c] + right_edge - left_px
    ax = fig.add_axes([left_px / W, 1 - (row_tops[r] + plot_h) / H, width_px / W, plot_h / H])

    rows = [(x, y, "Summer") for x, y in summer_data[i]] + [(x, y, "Winter") for x, y in winter_data[i]]
    df = pd.DataFrame(rows, columns=["Year", "Value", "Season"]).sort_values("Year")
    sns.scatterplot(data=df, x="Year", y="Value", hue="Season", palette=palette,
                    s=30, linewidth=0, legend=False, ax=ax, zorder=3)
    ax.axhline(threshold, color="#D0485C", lw=1.2, alpha=0.85, zorder=4)

    xmin, xmax = df["Year"].min(), df["Year"].max()
    xpad = 0.05 * (xmax - xmin)
    ax.set_xlim(xmin - xpad, xmax + xpad)
    ylo = min(df["Value"].min(), threshold)
    yhi = df["Value"].max()
    ypad = 0.05 * (yhi - ylo)
    ax.set_ylim(ylo - ypad, yhi + ypad)

    step = y_tick_step[i]
    ax.xaxis.set_major_locator(FixedLocator(x_ticks))
    ax.xaxis.set_minor_locator(MultipleLocator(1))
    ax.xaxis.set_major_formatter(FuncFormatter(lambda v, p: f"{int(round(v))}"))
    ax.yaxis.set_major_locator(MultipleLocator(step))
    ax.yaxis.set_minor_locator(MultipleLocator(step / 2))
    if float(step).is_integer():
        ax.yaxis.set_major_formatter(FuncFormatter(lambda v, p: f"{v:.0f}"))
    else:
        ax.yaxis.set_major_formatter(FuncFormatter(lambda v, p: f"{v:.1f}"))

    ax.set_axisbelow(True)
    ax.grid(which="major", color="#EBEBEB", lw=1.0)
    ax.grid(which="minor", color="#F4F4F4", lw=0.6)
    for sp in ax.spines.values():
        sp.set_color("#B3B3B3")
        sp.set_linewidth(1.0)
    ax.tick_params(which="major", bottom=True, left=True, length=3.5, width=0.8,
                   color="#B3B3B3", labelsize=10.5, labelcolor="#707070", pad=2)
    ax.tick_params(which="minor", length=0)

    ax.set_xlabel("Year", fontsize=11.5, fontweight="bold", color="black", labelpad=0)
    ax.set_ylabel("Orthophosphate (mg P/l)", fontsize=10.5, fontweight="bold", color="black")
    ax.yaxis.set_label_coords((cell_lefts[c] + 24 - left_px) / width_px, 0.5)
    ax.set_title(st, loc="left", fontsize=8.5, fontweight="bold", color="#111111", pad=6)

# ---------------- legend ----------------
fig.text(647 / W, 1 - 1481 / H, "Season", fontsize=23.5, fontweight="bold", ha="left", va="center")
handles = [Line2D([], [], marker="o", ls="", color=palette[s], markersize=9) for s in season_labels]
fig.legend(handles, season_labels, loc="center left", bbox_to_anchor=(764 / W, 1 - 1483 / H),
           ncol=2, frameon=False, fontsize=22, handletextpad=0.5, columnspacing=0.45,
           handlelength=1.0, borderpad=0, borderaxespad=0)

# ---------------- caption ----------------
for k, line in enumerate(caption_lines):
    fig.text(1281 / W, 1 - (1582 + 29.3 * k) / H, line, ha="right", va="center",
             fontsize=18.3, fontweight="bold", color="#1A5D72")

fig.savefig("out.png", dpi=100)
